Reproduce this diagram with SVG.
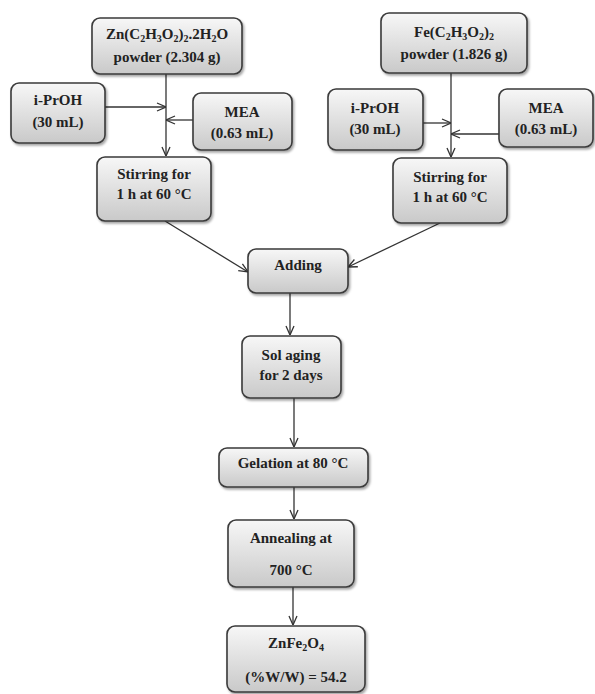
<svg xmlns="http://www.w3.org/2000/svg" width="595" height="694" viewBox="0 0 595 694">
<style>
.box{fill:url(#g);stroke:#3a3a3a;stroke-width:1.6;filter:url(#sh)}
.t{font-family:"Liberation Serif","Times New Roman",serif;font-weight:bold;font-size:15px;fill:#222;text-anchor:middle}
.s{font-size:10px}
.c{stroke:#333;stroke-width:1.3;fill:none;marker-end:url(#a)}
</style>
<defs>
<linearGradient id="g" x1="0" y1="0" x2="0" y2="1">
<stop offset="0" stop-color="#f7f7f7"/>
<stop offset="1" stop-color="#c9c9c9"/>
</linearGradient>
<filter id="sh" x="-10%" y="-10%" width="130%" height="140%">
<feDropShadow dx="1.5" dy="2" stdDeviation="1.2" flood-color="#000" flood-opacity="0.35"/>
</filter>
<marker id="a" viewBox="0 0 10 10" refX="10" refY="5" markerWidth="10" markerHeight="10" markerUnits="userSpaceOnUse" orient="auto">
<path d="M1,1 L10,5 L1,9" fill="none" stroke="#333" stroke-width="1.3"/>
</marker>
</defs>
<g id="connectors">
<line class="c" x1="166" y1="74" x2="166" y2="156"/>
<line class="c" x1="105" y1="107" x2="166" y2="107"/>
<line class="c" x1="193" y1="120" x2="166" y2="120"/>
<line class="c" x1="451" y1="73" x2="451" y2="157"/>
<line class="c" x1="423" y1="123" x2="451" y2="123"/>
<line class="c" x1="499" y1="134" x2="451" y2="134"/>
<line class="c" x1="165" y1="221" x2="248" y2="272"/>
<line class="c" x1="440" y1="223" x2="348" y2="267"/>
<line class="c" x1="290" y1="293" x2="290" y2="335"/>
<line class="c" x1="294" y1="398" x2="294" y2="447"/>
<line class="c" x1="294" y1="487" x2="294" y2="519"/>
<line class="c" x1="293" y1="587" x2="293" y2="625"/>
</g>
<g id="zn">
<rect class="box" x="92" y="18" width="150" height="56" rx="8"/>
<text class="t" x="167" y="39">Zn(C<tspan class="s" dy="3">2</tspan><tspan dy="-3">H</tspan><tspan class="s" dy="3">3</tspan><tspan dy="-3">O</tspan><tspan class="s" dy="3">2</tspan><tspan dy="-3">)</tspan><tspan class="s" dy="3">2</tspan><tspan dy="-3">.2H</tspan><tspan class="s" dy="3">2</tspan><tspan dy="-3">O</tspan></text>
<text class="t" x="167" y="62">powder (2.304 g)</text>
</g>
<g id="iproh1">
<rect class="box" x="11" y="83" width="94" height="60" rx="8"/>
<text class="t" x="58" y="105">i-PrOH</text>
<text class="t" x="58" y="127">(30 mL)</text>
</g>
<g id="mea1">
<rect class="box" x="193" y="93" width="99" height="57" rx="8"/>
<text class="t" x="242" y="117">MEA</text>
<text class="t" x="242" y="138">(0.63 mL)</text>
</g>
<g id="stir1">
<rect class="box" x="97" y="157" width="114" height="64" rx="8"/>
<text class="t" x="154" y="179">Stirring for</text>
<text class="t" x="154" y="199">1 h at 60 °C</text>
</g>
<g id="fe">
<rect class="box" x="381" y="13" width="146" height="60" rx="8"/>
<text class="t" x="454" y="37">Fe(C<tspan class="s" dy="3">2</tspan><tspan dy="-3">H</tspan><tspan class="s" dy="3">3</tspan><tspan dy="-3">O</tspan><tspan class="s" dy="3">2</tspan><tspan dy="-3">)</tspan><tspan class="s" dy="3">2</tspan></text>
<text class="t" x="454" y="59">powder (1.826 g)</text>
</g>
<g id="iproh2">
<rect class="box" x="328" y="89" width="95" height="61" rx="8"/>
<text class="t" x="375" y="113">i-PrOH</text>
<text class="t" x="375" y="134">(30 mL)</text>
</g>
<g id="mea2">
<rect class="box" x="499" y="89" width="94" height="58" rx="8"/>
<text class="t" x="546" y="113">MEA</text>
<text class="t" x="546" y="134">(0.63 mL)</text>
</g>
<g id="stir2">
<rect class="box" x="393" y="158" width="114" height="65" rx="8"/>
<text class="t" x="450" y="182">Stirring for</text>
<text class="t" x="450" y="202">1 h at 60 °C</text>
</g>
<g id="adding">
<rect class="box" x="248" y="249" width="100" height="44" rx="8"/>
<text class="t" x="298" y="270">Adding</text>
</g>
<g id="sol">
<rect class="box" x="242" y="336" width="99" height="62" rx="8"/>
<text class="t" x="291" y="360">Sol aging</text>
<text class="t" x="291" y="380">for 2 days</text>
</g>
<g id="gelation">
<rect class="box" x="219" y="448" width="149" height="39" rx="8"/>
<text class="t" x="293" y="468">Gelation at 80 °C</text>
</g>
<g id="annealing">
<rect class="box" x="228" y="520" width="126" height="67" rx="8"/>
<text class="t" x="291" y="543">Annealing at</text>
<text class="t" x="291" y="575">700 °C</text>
</g>
<g id="product">
<rect class="box" x="227" y="626" width="138" height="66" rx="8"/>
<text class="t" x="296" y="648">ZnFe<tspan class="s" dy="3">2</tspan><tspan dy="-3">O</tspan><tspan class="s" dy="3">4</tspan></text>
<text class="t" x="296" y="682">(%W/W) = 54.2</text>
</g>
</svg>
